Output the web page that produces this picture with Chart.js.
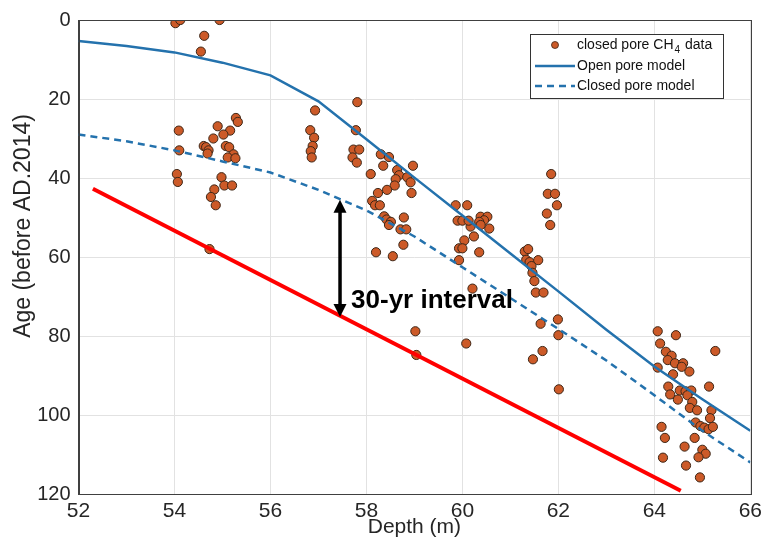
<!DOCTYPE html>
<html>
<head>
<meta charset="utf-8">
<script src="https://cdn.jsdelivr.net/npm/chart.js@4"></script>
<style>
  html, body { margin: 0; padding: 0; background: #fff; }
  #wrap { width: 767px; height: 551px; }
</style>
</head>
<body>
<div id="wrap"><canvas id="ageChart" width="767" height="551"></canvas></div>
<script>
// Axis ticks
const X_TICKS = [52, 54, 56, 58, 60, 62, 64, 66];
const Y_TICKS = [0, 20, 40, 60, 80, 100, 120];

// Model curves (depth in m, age in yr before AD 2014)
const MODEL_DEPTH = [52, 53, 54, 55, 56, 57, 58, 59, 60, 61, 62, 63, 64, 65, 66];
const OPEN_PORE_AGE = [5.3, 6.6, 8.2, 10.8, 14, 20.6, 30.2, 39.9, 49.5, 59.1, 68.7, 78.4, 87.7, 96, 104];
const CLOSED_PORE_AGE = [29, 30.7, 33, 35.8, 38.6, 43, 48.2, 54.8, 62.6, 70.4, 78.2, 86.2, 95, 104, 112];

// Red reference line
const RED_DEPTH = [52.3, 64.55];
const RED_AGE = [42.7, 119.2];

// Closed pore CH4 data
const CH4_DEPTH = [
    54.02, 54.12, 54.94, 54.62, 54.55, 54.09, 54.10, 54.05, 54.07, 55.28,
    55.32, 54.90, 55.16, 55.02, 54.81, 54.61, 54.66, 54.71, 54.69, 55.07,
    55.14, 55.23, 55.11, 55.27, 54.98, 55.04, 55.20, 54.83, 54.76, 54.86,
    54.73,
    56.93, 56.83, 56.91, 56.88, 56.84, 56.86,
    57.81, 57.78, 57.73, 57.85, 57.71, 57.80, 58.30, 58.47, 58.35, 58.97,
    58.09, 58.64, 58.68, 58.61, 58.85, 58.92, 58.59, 58.43, 58.94, 58.24,
    58.12, 58.18, 58.28, 58.37, 58.42, 58.51, 58.47, 58.78, 58.71, 58.83,
    58.77, 58.20, 58.55, 59.02, 59.04,
    59.86, 60.10, 59.90, 60.00, 60.38, 60.52, 60.45, 60.35, 60.56, 60.38,
    60.17, 60.13, 60.24, 60.04, 59.93, 60.00, 60.35, 59.93, 60.21, 60.08,
    61.85, 61.78, 61.93, 61.97, 61.76, 61.83, 61.30, 61.37, 61.33, 61.40,
    61.58, 61.44, 61.46, 61.50, 61.53, 61.69, 61.99, 61.63, 62.00, 61.67,
    61.47, 62.01,
    64.07, 64.45, 64.12, 65.27, 64.24, 64.36, 64.28, 64.43, 64.60, 64.57,
    64.73, 64.07, 64.39, 65.14, 64.29, 64.33, 64.53, 64.65, 64.77, 64.49,
    64.69, 64.79, 64.74, 64.89, 65.19, 65.16, 64.86, 64.96, 65.04, 65.13,
    65.22, 64.15, 64.22, 64.84, 64.63, 65.00, 65.07, 64.92, 64.18, 64.66,
    64.95
];
const CH4_AGE = [
    0.8, 0, 0, 4, 8, 28, 33, 39, 41, 24.8,
    25.8, 26.9, 28, 29, 30, 31.9, 32.2, 33, 33.8, 31.9,
    32.2, 34, 34.8, 35, 39.8, 41.9, 41.9, 42.9, 44.8, 46.9,
    58,
    22.9, 27.9, 29.8, 31.9, 33.2, 34.8,
    20.8, 27.9, 32.8, 32.8, 34.8, 36.1, 34, 34.7, 36.9, 36.9,
    39, 38, 39.3, 40.3, 39.8, 41.1, 41.9, 43, 43.8, 43.8,
    45.8, 46.9, 46.9, 49.7, 50.5, 51.1, 51.9, 50, 53, 53,
    56.9, 58.8, 59.8, 78.8, 84.8,
    46.9, 46.9, 50.8, 50.8, 49.8, 49.8, 50.7, 51.1, 52.8, 51.9,
    52.3, 50.8, 54.8, 55.8, 57.8, 57.8, 58.8, 60.8, 68, 81.9,
    39, 44, 44, 46.9, 49, 51.9, 58.6, 58, 60.7, 61.3,
    60.8, 62.3, 64, 66.1, 69, 69, 75.8, 76.9, 79.8, 83.8,
    85.9, 93.5,
    78.8, 79.8, 81.9, 83.8, 84, 85, 86.1, 86.9, 86.9, 87.8,
    89, 88, 89.7, 92.8, 92.8, 94.8, 93.8, 94, 93.8, 96.1,
    95, 96.7, 98.2, 98.8, 98.8, 100.8, 101.9, 102.8, 103.2, 103.6,
    103, 103, 105.8, 105.8, 108, 108.8, 109.8, 110.7, 110.8, 112.8,
    115.8
];

// Annotation: 30-yr interval arrow
const ARROW_DEPTH = 57.45;
const ARROW_AGES = [45.5, 75.2];
const INTERVAL_LABEL = '30-yr interval';
const LABEL_POS = { depth: 57.68, age: 72.8 };
const Y_TITLE = 'Age (before AD.2014)';

const BLUE = '#2472ad';
const DOT_FILL = '#cc5a28';
const DOT_EDGE = '#3d2616';
const AXIS_COLOR = '#262626';
const FONT = '"Liberation Sans", Arial, sans-serif';

function pairs(xs, ys) {
    return xs.map((x, i) => ({ x: x, y: ys[i] }));
}

// Frame, arrow, label, y title and legend
const decorPlugin = {
    id: 'decor',
    afterDraw(chart) {
        const ctx = chart.ctx;
        const area = chart.chartArea;
        const xs = chart.scales.x;
        const ys = chart.scales.y;

        ctx.save();
        ctx.strokeStyle = '#404040';
        ctx.lineWidth = 1;
        ctx.strokeRect(Math.round(area.left) + 0.5, Math.round(area.top) + 0.5,
            Math.round(area.right - area.left), Math.round(area.bottom - area.top));

        // y title, sits a bit above the axis middle as in the source figure
        ctx.save();
        ctx.translate(24, 226);
        ctx.rotate(-Math.PI / 2);
        ctx.font = '23px ' + FONT;
        ctx.fillStyle = AXIS_COLOR;
        ctx.textAlign = 'center';
        ctx.textBaseline = 'middle';
        ctx.fillText(Y_TITLE, 0, 0);
        ctx.restore();

        // double arrow
        const ax = xs.getPixelForValue(ARROW_DEPTH);
        const y1 = ys.getPixelForValue(ARROW_AGES[0]);
        const y2 = ys.getPixelForValue(ARROW_AGES[1]);
        const head = 13, half = 6.5;
        ctx.strokeStyle = '#000';
        ctx.fillStyle = '#000';
        ctx.lineWidth = 3.5;
        ctx.beginPath();
        ctx.moveTo(ax, y1 + head - 2);
        ctx.lineTo(ax, y2 - head + 2);
        ctx.stroke();
        ctx.beginPath();
        ctx.moveTo(ax, y1);
        ctx.lineTo(ax - half, y1 + head);
        ctx.lineTo(ax + half, y1 + head);
        ctx.closePath();
        ctx.fill();
        ctx.beginPath();
        ctx.moveTo(ax, y2);
        ctx.lineTo(ax - half, y2 - head);
        ctx.lineTo(ax + half, y2 - head);
        ctx.closePath();
        ctx.fill();

        ctx.save();
        ctx.translate(xs.getPixelForValue(LABEL_POS.depth), ys.getPixelForValue(LABEL_POS.age));
        ctx.scale(1.04, 1);
        ctx.font = 'bold 25px ' + FONT;
        ctx.textBaseline = 'alphabetic';
        ctx.textAlign = 'left';
        ctx.fillText(INTERVAL_LABEL, 0, 0);
        ctx.restore();

        // legend
        const lx = 530, ly = 34, lw = 193, lh = 64;
        ctx.fillStyle = '#fff';
        ctx.fillRect(lx, ly, lw, lh);
        ctx.strokeStyle = '#333';
        ctx.lineWidth = 1;
        ctx.strokeRect(lx + 0.5, ly + 0.5, lw, lh);

        ctx.font = '14px ' + FONT;
        ctx.textBaseline = 'middle';
        ctx.textAlign = 'left';

        ctx.beginPath();
        ctx.arc(555, 45, 3.5, 0, Math.PI * 2);
        ctx.fillStyle = DOT_FILL;
        ctx.fill();
        ctx.strokeStyle = DOT_EDGE;
        ctx.lineWidth = 0.8;
        ctx.stroke();

        ctx.fillStyle = '#111';
        let tx = 577;
        ctx.fillText('closed pore CH', tx, 45);
        tx += ctx.measureText('closed pore CH').width + 1;
        ctx.font = '10px ' + FONT;
        ctx.fillText('4', tx, 50);
        tx += ctx.measureText('4').width + 1;
        ctx.font = '14px ' + FONT;
        ctx.fillText(' data', tx, 45);

        ctx.strokeStyle = BLUE;
        ctx.lineWidth = 2.5;
        ctx.beginPath();
        ctx.moveTo(535, 66);
        ctx.lineTo(575, 66);
        ctx.stroke();
        ctx.fillText('Open pore model', 577, 66);

        ctx.setLineDash([7, 5]);
        ctx.beginPath();
        ctx.moveTo(535, 86);
        ctx.lineTo(575, 86);
        ctx.stroke();
        ctx.setLineDash([]);
        ctx.fillText('Closed pore model', 577, 86);
        ctx.restore();
    }
};

new Chart(document.getElementById('ageChart'), {
    data: {
        datasets: [
            {
                type: 'line',
                label: 'Open pore model',
                data: pairs(MODEL_DEPTH, OPEN_PORE_AGE),
                borderColor: BLUE,
                borderWidth: 2.5,
                pointRadius: 0,
                fill: false,
                order: 1
            },
            {
                type: 'line',
                label: 'Closed pore model',
                data: pairs(MODEL_DEPTH, CLOSED_PORE_AGE),
                borderColor: BLUE,
                borderWidth: 2.5,
                borderDash: [7, 5],
                pointRadius: 0,
                fill: false,
                order: 1
            },
            {
                type: 'line',
                label: 'Reference',
                data: pairs(RED_DEPTH, RED_AGE),
                borderColor: '#ff0000',
                borderWidth: 4,
                pointRadius: 0,
                fill: false,
                order: 2
            },
            {
                type: 'scatter',
                label: 'closed pore CH4 data',
                data: pairs(CH4_DEPTH, CH4_AGE),
                backgroundColor: DOT_FILL,
                borderColor: DOT_EDGE,
                borderWidth: 1,
                pointRadius: 4.6,
                order: 5
            }
        ]
    },
    options: {
        responsive: false,
        animation: false,
        devicePixelRatio: 1,
        layout: { padding: { top: 14, right: 14, left: 0, bottom: 0 } },
        plugins: {
            legend: { display: false },
            tooltip: { enabled: false }
        },
        scales: {
            x: {
                type: 'linear',
                min: 52,
                max: 66,
                afterBuildTicks: (s) => { s.ticks = X_TICKS.map(v => ({ value: v })); },
                afterFit: (s) => { s.height = 57; },
                ticks: { color: AXIS_COLOR, font: { family: FONT, size: 21 }, padding: 5, maxRotation: 0 },
                grid: { color: '#e2e2e2', drawTicks: false },
                border: { color: '#404040' },
                title: {
                    display: true,
                    text: 'Depth (m)',
                    color: AXIS_COLOR,
                    font: { family: FONT, size: 21 },
                    padding: { top: 0, bottom: 11 }
                }
            },
            y: {
                type: 'linear',
                reverse: true,
                min: 0,
                max: 120,
                afterBuildTicks: (s) => { s.ticks = Y_TICKS.map(v => ({ value: v })); },
                afterFit: (s) => { s.width = 78.5; },
                ticks: { color: AXIS_COLOR, font: { family: FONT, size: 20 }, padding: 8 },
                grid: { color: '#e2e2e2', drawTicks: false },
                border: { color: '#404040' }
            }
        }
    },
    plugins: [decorPlugin]
});
</script>
</body>
</html>
